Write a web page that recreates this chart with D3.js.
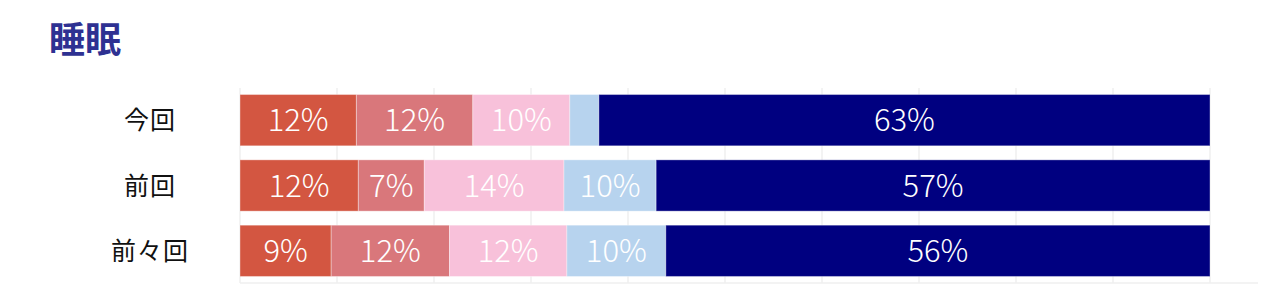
<!DOCTYPE html>
<html>
<head>
<meta charset="utf-8">
<script src="https://cdn.jsdelivr.net/npm/d3@7"></script>
<style>
  body { margin: 0; background: #fff; }
  svg { display: block; }
</style>
</head>
<body>
<svg id="chart"></svg>
<script>
// data
const categories = ["今回", "前回", "前々回"];
const seriesNames = ["s1", "s2", "s3", "s4", "s5"];
const values = [
  [12, 12, 10, 3, 63],
  [12.2, 6.8, 14.4, 9.5, 57.1],
  [9.4, 12.2, 12.1, 10.2, 56.1]
];
const valueLabels = [
  ["12%", "12%", "10%", "", "63%"],
  ["12%", "7%", "14%", "10%", "57%"],
  ["9%", "12%", "12%", "10%", "56%"]
];
const colors = ["#d35641", "#d9777b", "#f8c1da", "#b7d3ee", "#000080"];
const ticks = [0, 10, 20, 30, 40, 50, 60, 70, 80, 90, 100];

const width = 1269, height = 303;
const svg = d3.select("#chart").attr("width", width).attr("height", height);

const font = "'Noto Sans CJK JP', 'Noto Sans', sans-serif";

svg.append("text")
  .attr("x", 49).attr("y", 53)
  .attr("font-family", font)
  .attr("font-weight", 700)
  .attr("font-size", 36)
  .attr("fill", "#2e3192")
  .text("睡眠");

const x = d3.scaleLinear().domain([0, 100]).range([240, 1210]);
const y = d3.scaleBand().domain(categories).range([88, 283]).paddingInner(0.215).paddingOuter(0.1);

// grid
svg.append("g").selectAll("line").data(ticks).join("line")
  .attr("x1", d => x(d)).attr("x2", d => x(d))
  .attr("y1", 88).attr("y2", 283)
  .attr("stroke", "#efefef").attr("stroke-width", 1.5);
svg.append("line")
  .attr("x1", 240).attr("x2", 1258).attr("y1", 283).attr("y2", 283)
  .attr("stroke", "#efefef").attr("stroke-width", 1.5);

// stacked rows
const rows = categories.map((c, i) => {
  let acc = 0;
  return values[i].map((v, j) => {
    const seg = { cat: c, s: seriesNames[j], x0: acc, x1: acc + v, label: valueLabels[i][j], color: colors[j] };
    acc += v;
    return seg;
  });
});

const row = svg.append("g").selectAll("g").data(rows).join("g");

row.selectAll("rect").data(d => d).join("rect")
  .attr("x", d => x(d.x0))
  .attr("y", d => y(d.cat))
  .attr("width", d => x(d.x1) - x(d.x0))
  .attr("height", y.bandwidth())
  .attr("fill", d => d.color)
  .attr("stroke", "rgba(255,255,255,0.35)")
  .attr("stroke-width", 1);

row.selectAll("text").data(d => d.filter(s => s.label)).join("text")
  .attr("x", d => (x(d.x0) + x(d.x1)) / 2)
  .attr("y", d => y(d.cat) + y.bandwidth() / 2)
  .attr("dy", "0.36em")
  .attr("text-anchor", "middle")
  .attr("font-family", font)
  .attr("font-weight", 300)
  .attr("font-size", 31)
  .attr("fill", "#fff")
  .text(d => d.label);

// category labels
svg.append("g").selectAll("text").data(categories).join("text")
  .attr("x", 150)
  .attr("y", d => y(d) + y.bandwidth() / 2)
  .attr("dy", "0.36em")
  .attr("text-anchor", "middle")
  .attr("font-family", font)
  .attr("font-size", 25)
  .attr("letter-spacing", 1)
  .attr("fill", "#111")
  .text(d => d);
</script>
</body>
</html>
